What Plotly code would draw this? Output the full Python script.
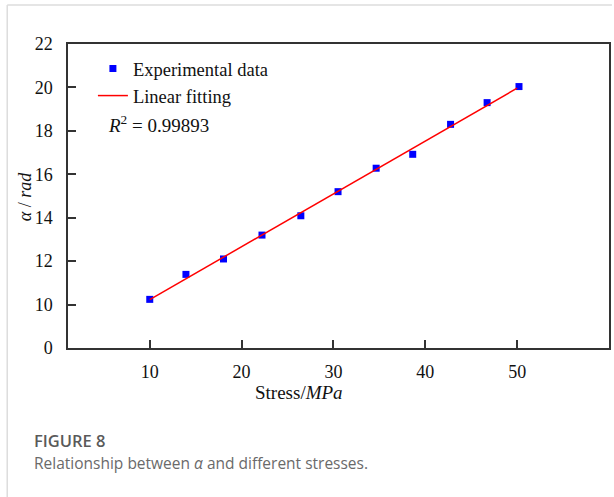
import numpy as np
import plotly.graph_objects as go

# Data
stress = [10.0, 13.94, 18.03, 22.22, 26.45, 30.5, 34.65, 38.63, 42.75, 46.73, 50.2]
alpha = [10.24, 11.39, 12.10, 13.20, 14.09, 15.20, 16.28, 16.92, 18.30, 19.30, 20.04]
y_tickvals = [8, 10, 12, 14, 16, 18, 20, 22]
y_ticktext = ["0", "10", "12", "14", "16", "18", "20", "22"]
x_tickvals = [10, 20, 30, 40, 50]
r2_text = "0.99893"

slope, intercept = np.polyfit(stress, alpha, 1)
fit_x = [10.0, 50.0]
fit_y = [slope * v + intercept for v in fit_x]

W, H = 614, 497
L, R, T, B = 68, 3, 44, 149
pw, ph = W - L - R, H - T - B


def px(x):
    return (x - L) / pw


def py(y):
    return (H - B - y) / ph


serif = "Liberation Serif"
axis_col = "#333333"
txt_col = "#111111"

fig = go.Figure()
fig.add_trace(go.Scatter(
    x=stress, y=alpha, mode="markers", name="Experimental data",
    marker=dict(symbol="square", size=7, color="#0000ff"),
))
fig.add_trace(go.Scatter(
    x=fit_x, y=fit_y, mode="lines", name="Linear fitting",
    line=dict(color="#ff0000", width=1.5),
))

fig.update_layout(
    width=W, height=H,
    margin=dict(l=L, r=R, t=T, b=B),
    paper_bgcolor="white", plot_bgcolor="white",
    font=dict(family=serif, size=18, color=txt_col),
    showlegend=True,
    legend=dict(
        x=px(93), y=py(50), xanchor="left", yanchor="top",
        bgcolor="rgba(0,0,0,0)", font=dict(family=serif, size=18.5, color=txt_col),
        itemwidth=30, tracegroupgap=0,
    ),
    xaxis=dict(
        range=[1.1, 60], tickvals=x_tickvals, ticks="inside", ticklen=8,
        tickwidth=1.5, tickcolor=axis_col, showline=True, linecolor=axis_col,
        linewidth=1.5, mirror=True, showgrid=False, zeroline=False,
        ticklabelstandoff=7, tickfont=dict(family=serif, size=18, color=txt_col),
    ),
    yaxis=dict(
        range=[8, 22], tickvals=y_tickvals, ticktext=y_ticktext,
        ticks="inside", ticklen=8, tickwidth=1.5, tickcolor=axis_col,
        showline=True, linecolor=axis_col, linewidth=1.5, mirror=True,
        showgrid=False, zeroline=False, ticklabelstandoff=10,
        tickfont=dict(family=serif, size=18, color=txt_col),
    ),
)

# axis titles
fig.add_annotation(
    xref="paper", yref="paper", x=px(300), y=py(392), xanchor="center",
    yanchor="middle", showarrow=False, text="Stress/<i>MPa</i>",
    font=dict(family=serif, size=19, color=txt_col),
)
fig.add_annotation(
    xref="paper", yref="paper", x=px(25), y=py(197), xanchor="center",
    yanchor="middle", showarrow=False, textangle=-90,
    text="<i>α</i> / <i>rad</i>",
    font=dict(family=serif, size=18, color=txt_col),
)

fig.add_annotation(
    xref="paper", yref="paper", x=px(106), y=py(124), xanchor="left",
    yanchor="middle", showarrow=False,
    text="<i>R</i><sup>2</sup> = " + r2_text,
    font=dict(family=serif, size=19, color=txt_col),
)

# Caption
fig.add_annotation(
    xref="paper", yref="paper", x=px(32), y=py(440), xanchor="left",
    yanchor="middle", showarrow=False, text="FIGURE 8",
    font=dict(family="Open Sans", size=16.5, color="#5a5a5a", weight=600),
)
fig.add_annotation(
    xref="paper", yref="paper", x=px(32), y=py(463), xanchor="left",
    yanchor="middle", showarrow=False,
    text="Relationship between <i>α</i> and different stresses.",
    font=dict(family="Open Sans", size=15.5, color="#6a6a6a"),
)

# Page frame lines
fig.add_shape(type="line", xref="paper", yref="paper",
              x0=px(7), x1=px(614), y0=py(5), y1=py(5),
              line=dict(color="#dddddd", width=1.5))
fig.add_shape(type="line", xref="paper", yref="paper",
              x0=px(7), x1=px(7), y0=py(5), y1=py(497),
              line=dict(color="#dddddd", width=1.5))

fig.write_html("out.html")
